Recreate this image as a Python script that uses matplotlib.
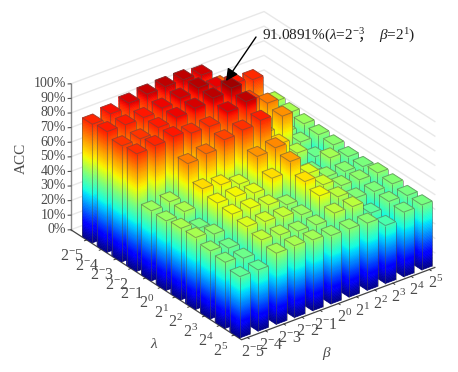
import numpy as np
import matplotlib
matplotlib.use("Agg")
from matplotlib import pyplot as plt
from matplotlib.patches import FancyArrowPatch
from mpl_toolkits.mplot3d.art3d import Poly3DCollection, Line3DCollection

plt.rcParams["font.family"] = ["Liberation Serif", "Noto Sans CJK SC", "DejaVu Sans"]
plt.rcParams["mathtext.fontset"] = "custom"
plt.rcParams["mathtext.rm"] = "Liberation Serif"
plt.rcParams["mathtext.it"] = "Liberation Serif:italic"
plt.rcParams["mathtext.bf"] = "Liberation Serif:bold"

# filas = lambda, columnas = beta
acc = [
    [81.3, 83.7, 86.4, 87.9, 88.4, 88.4, 87.0, 75.0, 70.0, 55.0, 50.0],
    [82.7, 82.7, 83.0, 84.8, 87.0, 89.4, 85.0, 83.0, 81.0, 50.0, 49.0],
    [79.5, 79.6, 82.7, 84.9, 86.6, 89.0, 91.09, 78.0, 71.4, 47.0, 48.0],
    [80.5, 81.5, 83.0, 80.7, 80.5, 86.0, 88.3, 62.0, 69.0, 46.6, 47.0],
    [48.0, 49.5, 71.0, 73.0, 78.0, 80.0, 82.0, 61.0, 50.2, 43.0, 46.5],
    [47.6, 49.3, 60.3, 58.3, 54.0, 68.4, 69.7, 46.0, 44.0, 48.8, 45.0],
    [49.0, 44.5, 57.0, 56.8, 54.5, 60.0, 66.8, 54.0, 47.0, 46.0, 44.7],
    [49.2, 46.9, 55.9, 55.3, 53.0, 48.3, 59.6, 52.7, 47.5, 46.8, 46.9],
    [46.6, 43.8, 53.9, 52.7, 51.4, 48.0, 56.3, 51.0, 45.6, 45.3, 45.9],
    [45.3, 43.4, 51.3, 50.0, 48.0, 47.6, 51.0, 50.8, 41.7, 45.0, 44.4],
    [42.0, 41.9, 48.7, 49.2, 48.5, 46.8, 46.7, 46.0, 39.7, 44.2, 44.5],
]
exp_labels = [r"$2^{-}5$", r"$2^{-}4$", r"$2^{-}3$", r"$2^{-}2$", r"$2^{-}1$",
              r"$2^{0}$", r"$2^{1}$", r"$2^{2}$", r"$2^{3}$", r"$2^{4}$", r"$2^{5}$"]
z_ticks = [0, 10, 20, 30, 40, 50, 60, 70, 80, 90, 100]

acc = np.array(acc)
n_l, n_b = acc.shape
x0, x1 = -1.07, 10.5
y0, y1 = -0.32, 10.3
wx = 0.67 / 2
wy = 0.57 / 2
cmap = plt.get_cmap("jet")
gris = "#4a4a4a"


def color(z):
    # verde claro cerca de 45, amarillo cerca de 55, rojo cerca de 82
    return cmap(np.interp(z, [0, 45, 55, 82, 91], [0, 0.5, 0.63, 0.875, 0.97]))


fig = plt.figure(figsize=(4.58, 3.72), dpi=100, facecolor="white")
ax = fig.add_axes([49.5 / 458, -7 / 372, 396 / 458, 396 / 372], projection="3d", proj_type="ortho")
ax.patch.set_alpha(0)
ax.computed_zorder = False
ax.set_box_aspect((281.8, 243.0, 167.6))
ax.view_init(elev=29.4, azim=-37.3)
ax.set_xlim(x0, x1)
ax.set_ylim(y0, y1)
ax.set_zlim(0, 100)
ax.set_axis_off()

# lineas de las paredes del fondo
for z in z_ticks:
    ax.plot([x0, x0, x1], [y0, y1, y1], [z, z, z], color="#e8e8e8", lw=1.0, zorder=0)

# ejes
ax.plot([x0, x0], [y0, y0], [0, 100], color="#888888", lw=1.0, zorder=1)
ax.plot([x0, x1, x1], [y0, y0, y1], [0, 0, 0], color="#444444", lw=0.9, zorder=1)
for z in z_ticks:
    ax.plot([x0, x0 - 0.06], [y0, y0 - 0.1], [z, z], color="#555555", lw=0.8, zorder=1)
    ax.text(x0 - 0.124, y0 - 0.174, z, f"{z}%", ha="right", va="center",
            fontsize=10, color=gris, zorder=200)
for i in range(n_l):
    ax.plot([i, i], [y0, y0 - 0.12], [0, 0], color="#333333", lw=0.7, zorder=1)
    ax.text(i + 0.735, -1.69, 0, exp_labels[i], ha="center", va="center",
            fontsize=11.5, color=gris, zorder=200)
for j in range(n_b):
    ax.plot([x1, x1 + 0.12], [j, j], [0, 0], color="#333333", lw=0.7, zorder=1)
    ax.text(11.6, j - 0.56, 0, exp_labels[j], ha="center", va="center",
            fontsize=11.5, color=gris, zorder=200)

# barras de atras hacia adelante
orden = sorted([(i, j) for i in range(n_l) for j in range(n_b)], key=lambda p: p[0] - p[1])
for k, (i, j) in enumerate(orden):
    h = acc[i, j]
    xa, xb, ya, yb = i - wx, i + wx, j - wy, j + wy
    cortes = np.append(np.arange(0, h, 1.0), h)
    polys = []
    colores = []
    for z1, z2 in zip(cortes[:-1], cortes[1:]):
        c = color((z1 + z2) / 2)
        polys.append([(xa, ya, z1), (xb, ya, z1), (xb, ya, z2), (xa, ya, z2)])
        polys.append([(xb, ya, z1), (xb, yb, z1), (xb, yb, z2), (xb, ya, z2)])
        colores += [c, c]
    polys.append([(xa, ya, h), (xb, ya, h), (xb, yb, h), (xa, yb, h)])
    colores.append(color(h))
    col = Poly3DCollection(polys, facecolors=colores, edgecolors=colores, linewidths=0.5, zorder=10 + k)
    ax.add_collection3d(col)
    bordes = [
        [(xa, ya, 0), (xa, ya, h)], [(xb, ya, 0), (xb, ya, h)], [(xb, yb, 0), (xb, yb, h)],
        [(xa, ya, h), (xb, ya, h)], [(xb, ya, h), (xb, yb, h)],
        [(xb, yb, h), (xa, yb, h)], [(xa, yb, h), (xa, ya, h)],
    ]
    lin = Line3DCollection(bordes, colors=[(0.3, 0.3, 0.3, 0.5)], linewidths=0.7, zorder=10 + k)
    ax.add_collection3d(lin)

fig.text(21.5 / 458, 1 - 158 / 372, "ACC", rotation=90, ha="center", va="center", fontsize=11, color=gris)
fig.text(154 / 458, 1 - 344 / 372, r"$\lambda$", ha="center", va="center", fontsize=11, color=gris)
fig.text(326.5 / 458, 1 - 353 / 372, r"$\beta$", ha="center", va="center", fontsize=11, color=gris)

fig.text(262 / 458, 1 - 40 / 372, r"91.0891%($\lambda$=2$^{-3}$", ha="left", va="baseline", fontsize=11, color="#222222")
fig.text(366 / 458, 1 - 40 / 372, "，", ha="center", va="baseline", fontsize=11, color="#222222")
fig.text(379 / 458, 1 - 40 / 372, r"$\beta$=2$^{1}$)", ha="left", va="baseline", fontsize=11, color="#222222")

flecha = FancyArrowPatch((256 / 458, 1 - 37 / 372), (226 / 458, 1 - 81 / 372), transform=fig.transFigure,
                         arrowstyle="-|>", mutation_scale=18, color="black", lw=1.0,
                         shrinkA=0, shrinkB=0, zorder=500)
fig.add_artist(flecha)

fig.savefig("out.png", dpi=100, facecolor="white")
